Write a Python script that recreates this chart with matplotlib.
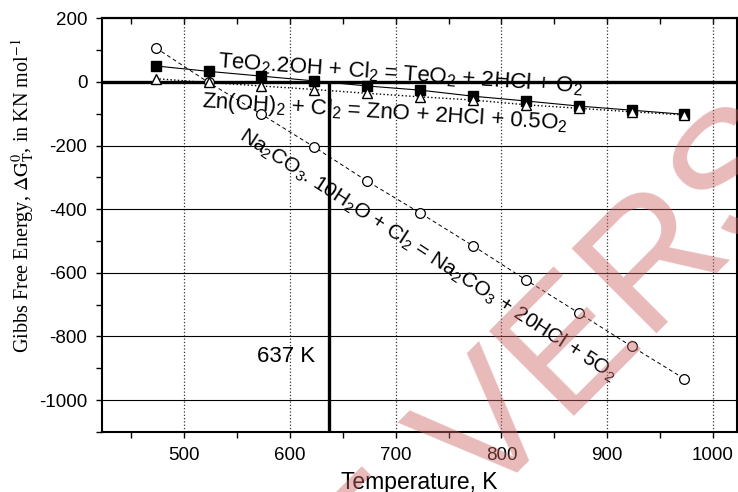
import matplotlib
matplotlib.use("Agg")
import matplotlib.pyplot as plt
from matplotlib.ticker import MultipleLocator

# Gibbs free energy (kJ/mol) vs temperature (K)
temperature = [473, 523, 573, 623, 673, 723, 773, 823, 873, 923, 973]
dg_teo2 = [50, 33, 18, 3, -13, -26, -45, -60, -76, -89, -102]
dg_zn = [10, -2, -13, -24, -36, -47, -57, -72, -83, -94, -104]
dg_na2co3 = [107, -2, -102, -205, -312, -412, -515, -622, -726, -831, -933]
t_cross = 637

x_range = (422, 1023)
y_range = (-1100, 200)

plt.rcParams["font.family"] = "Liberation Sans"
plt.rcParams["axes.unicode_minus"] = False
plt.rcParams["mathtext.fontset"] = "custom"
plt.rcParams["mathtext.rm"] = "Liberation Sans"
plt.rcParams["mathtext.it"] = "Liberation Sans:italic"
plt.rcParams["mathtext.bf"] = "Liberation Sans:bold"

fig = plt.figure(figsize=(7.38, 4.92), dpi=100)
ax = fig.add_axes([0.138, 0.122, 0.861, 0.841])

ax.plot(temperature, dg_teo2, "-", color="k", lw=0.8, marker="s", ms=7.5,
        mfc="k", mec="k", zorder=4)
ax.plot(temperature, dg_zn, ":", color="k", lw=1.0, marker="^", ms=6.5,
        mfc="white", mec="k", mew=1.0, zorder=5)
ax.plot(temperature, dg_na2co3, "--", dashes=(4, 3), color="k", lw=0.7,
        marker="o", ms=7, mfc="white", mec="k", mew=0.9, zorder=4)

# zero line and the crossing temperature
ax.axhline(0, color="k", lw=2.4, zorder=3)
ax.vlines(t_cross, y_range[0], 0, color="k", lw=2.4, zorder=3)

ax.set_xlim(*x_range)
ax.set_ylim(*y_range)

ax.grid(axis="x", which="major", linestyle=":", color="#333333", lw=0.9)
ax.grid(axis="y", which="major", linestyle="-", color="k", lw=0.8)

ax.xaxis.set_major_locator(MultipleLocator(100))
ax.xaxis.set_minor_locator(MultipleLocator(50))
ax.yaxis.set_major_locator(MultipleLocator(200))
ax.yaxis.set_minor_locator(MultipleLocator(100))
ax.tick_params(axis="both", which="both", direction="out", length=4.5,
               width=1.0, labelsize=13.5, pad=6, right=False, top=False)

top = ax.secondary_xaxis("top")
top.xaxis.set_major_locator(MultipleLocator(100))
top.xaxis.set_minor_locator(MultipleLocator(50))
top.tick_params(which="both", direction="in", length=4.5, width=1.0,
                labeltop=False)
top.spines["top"].set_linewidth(1.5)

for s in ax.spines.values():
    s.set_linewidth(1.5)

ax.set_xlabel("Temperature, K", fontsize=16.5, labelpad=5)
ax.set_ylabel("Gibbs Free Energy, $\\Delta\\mathrm{G}_{\\mathrm{T}}^{0}$, in KN mol$^{-1}$",
              family="Liberation Serif", math_fontfamily="stix", fontsize=14.5)
ax.yaxis.set_label_coords(-0.102, 0.57)

ax.text(704, 24, "TeO$_2$.2OH + Cl$_2$ = TeO$_2$ + 2HCl + O$_2$",
        rotation=-4, rotation_mode="anchor", ha="center", va="center",
        fontsize=16, zorder=6)
ax.text(690, -98, "Zn(OH)$_2$ + Cl$_2$ = ZnO + 2HCl + 0.5O$_2$",
        rotation=-3.5, rotation_mode="anchor", ha="center", va="center",
        fontsize=16, zorder=6)
ax.text(730, -545, "Na$_2$CO$_3$. 10H$_2$O + Cl$_2$ = Na$_2$CO$_3$ + 20HCl + 5O$_2$",
        rotation=-33, rotation_mode="anchor", ha="center", va="center",
        fontsize=15, zorder=6)
ax.text(624, -864, "637 K", ha="right", va="center", fontsize=16)

# faint watermark over the plot, mostly outside the figure
wm = dict(rotation=45, rotation_mode="anchor", va="baseline", fontsize=126,
          color="#cc6666", alpha=0.45, zorder=10)
fig.text(0.653, -0.0325, "VERSION", ha="left", **wm)
fig.text(0.6065, -0.1025, "STUDENT", ha="right", **wm)

fig.savefig("out.png", dpi=100)
